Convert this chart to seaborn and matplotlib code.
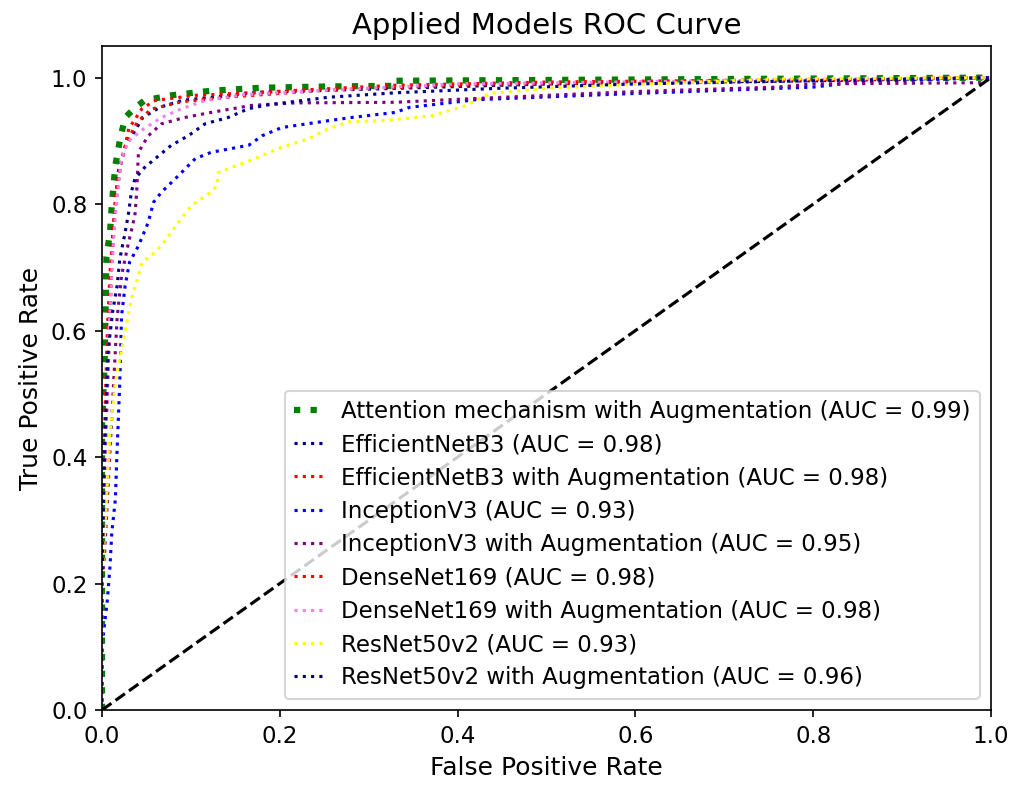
import matplotlib
matplotlib.use("Agg")
import matplotlib.pyplot as plt
import seaborn as sns
import numpy as np

# ---- data ----
labels = [
    "Attention mechanism with Augmentation (AUC = 0.99)",
    "EfficientNetB3 (AUC = 0.98)",
    "EfficientNetB3 with Augmentation (AUC = 0.98)",
    "InceptionV3 (AUC = 0.93)",
    "InceptionV3 with Augmentation (AUC = 0.95)",
    "DenseNet169 (AUC = 0.98)",
    "DenseNet169 with Augmentation (AUC = 0.98)",
    "ResNet50v2 (AUC = 0.93)",
    "ResNet50v2 with Augmentation (AUC = 0.96)",
]

att_fpr = [0, 0, 0.003, 0.005, 0.009, 0.011, 0.015, 0.020, 0.026, 0.037, 0.048, 0.078, 0.121, 0.18, 0.254, 0.33, 0.33, 0.6, 1.0]
att_tpr = [0, 0.45, 0.55, 0.716, 0.756, 0.798, 0.861, 0.90, 0.937, 0.952, 0.964, 0.972, 0.979, 0.984, 0.986, 0.987, 0.995, 0.997, 1.0]

eff_fpr = [0, 0, 0.004, 0.008, 0.012, 0.018, 0.026, 0.037, 0.046, 0.065, 0.09, 0.123, 0.18, 0.33, 0.5, 0.8, 1.0]
eff_tpr = [0, 0.25, 0.45, 0.62, 0.75, 0.85, 0.89, 0.916, 0.937, 0.953, 0.964, 0.969, 0.977, 0.983, 0.99, 0.995, 1.0]

effa_fpr = [0, 0, 0.003, 0.006, 0.009, 0.013, 0.015, 0.018, 0.024, 0.03, 0.045, 0.06, 0.105, 0.18, 0.33, 0.5, 0.8, 1.0]
effa_tpr = [0, 0.22, 0.45, 0.6, 0.692, 0.766, 0.808, 0.845, 0.877, 0.919, 0.951, 0.964, 0.972, 0.977, 0.988, 0.993, 0.997, 1.0]

inc_fpr = [0, 0, 0.003, 0.006, 0.009, 0.011, 0.015, 0.017, 0.02, 0.022, 0.026, 0.031, 0.041, 0.052, 0.058, 0.067, 0.086, 0.105, 0.123, 0.165, 0.18, 0.202, 0.255, 0.281, 0.33, 0.346, 0.42, 0.6, 0.8, 0.85, 1.0]
inc_tpr = [0, 0.1, 0.137, 0.174, 0.227, 0.28, 0.333, 0.412, 0.518, 0.623, 0.671, 0.708, 0.734, 0.771, 0.803, 0.819, 0.845, 0.872, 0.882, 0.893, 0.908, 0.921, 0.932, 0.937, 0.945, 0.953, 0.965, 0.975, 0.985, 0.993, 1.0]

inca_fpr = [0, 0, 0.003, 0.009, 0.017, 0.022, 0.03, 0.037, 0.039, 0.041, 0.052, 0.067, 0.093, 0.123, 0.168, 0.217, 0.33, 0.42, 0.6, 0.76, 0.8, 0.99, 1.0]
inca_tpr = [0, 0.2, 0.25, 0.41, 0.62, 0.687, 0.74, 0.782, 0.819, 0.882, 0.908, 0.927, 0.937, 0.945, 0.956, 0.96, 0.961, 0.967, 0.978, 0.985, 0.99, 0.992, 1.0]

den_fpr = [0, 0, 0.004, 0.008, 0.011, 0.014, 0.018, 0.022, 0.028, 0.04, 0.055, 0.09, 0.15, 0.25, 0.4, 0.7, 1.0]
den_tpr = [0, 0.2, 0.42, 0.58, 0.7, 0.78, 0.83, 0.87, 0.9, 0.93, 0.95, 0.962, 0.97, 0.98, 0.988, 0.995, 1.0]

dena_fpr = [0, 0, 0.004, 0.008, 0.012, 0.016, 0.022, 0.03, 0.045, 0.067, 0.09, 0.116, 0.16, 0.25, 0.4, 0.7, 1.0]
dena_tpr = [0, 0.2, 0.42, 0.6, 0.72, 0.8, 0.872, 0.9, 0.917, 0.937, 0.951, 0.964, 0.973, 0.98, 0.99, 0.995, 1.0]

res_fpr = [0, 0, 0.0015, 0.005, 0.009, 0.015, 0.022, 0.033, 0.041, 0.045, 0.06, 0.071, 0.086, 0.101, 0.123, 0.129, 0.131, 0.142, 0.172, 0.202, 0.232, 0.251, 0.277, 0.318, 0.372, 0.41, 0.436, 0.5, 0.613, 0.763, 1.0]
res_tpr = [0, 0.222, 0.243, 0.333, 0.439, 0.518, 0.57, 0.65, 0.687, 0.708, 0.724, 0.742, 0.771, 0.798, 0.819, 0.829, 0.85, 0.856, 0.872, 0.89, 0.903, 0.917, 0.93, 0.932, 0.94, 0.956, 0.975, 0.983, 0.99, 0.998, 1.0]

resa_fpr = [0, 0, 0.0015, 0.003, 0.007, 0.012, 0.017, 0.02, 0.026, 0.03, 0.033, 0.037, 0.048, 0.06, 0.078, 0.097, 0.116, 0.142, 0.165, 0.187, 0.255, 0.33, 0.444, 0.6, 1.0]
resa_tpr = [0, 0.2, 0.306, 0.41, 0.57, 0.63, 0.671, 0.713, 0.755, 0.787, 0.819, 0.84, 0.858, 0.872, 0.893, 0.908, 0.927, 0.937, 0.951, 0.957, 0.969, 0.976, 0.983, 0.99, 1.0]

fprs = [att_fpr, eff_fpr, effa_fpr, inc_fpr, inca_fpr, den_fpr, dena_fpr, res_fpr, resa_fpr]
tprs = [att_tpr, eff_tpr, effa_tpr, inc_tpr, inca_tpr, den_tpr, dena_tpr, res_tpr, resa_tpr]
colors = ["green", "navy", "red", "blue", "purple", "red", "violet", "yellow", "darkblue"]
widths = [3, 1.5, 1.5, 1.5, 1.5, 1.5, 1.5, 1.5, 1.5]

diag = [0, 1]

fig = plt.figure(figsize=(1013 / 150, 786 / 150), dpi=150)
ax = fig.add_axes([102 / 1013, 1 - 710 / 786, 889 / 1013, (710 - 46) / 786])

for f, t, c, w, lab in zip(fprs, tprs, colors, widths, labels):
    sns.lineplot(x=f, y=t, ax=ax, color=c, linestyle=":", linewidth=w,
                 label=lab, estimator=None, sort=False)

sns.lineplot(x=diag, y=diag, ax=ax, color="black", linestyle="--",
             linewidth=1.5, estimator=None, sort=False)

ax.set_xlim(0, 1.0)
ax.set_ylim(0, 1.05)
ax.set_xlabel("False Positive Rate", fontsize=12)
ax.set_ylabel("True Positive Rate", fontsize=12)
ax.set_title("Applied Models ROC Curve", fontsize=14)
ax.tick_params(labelsize=11)
ax.legend(loc="lower right", fontsize=11, handlelength=1.45,
          handletextpad=0.6, labelspacing=0.45)

fig.savefig("out.png", dpi=150)
